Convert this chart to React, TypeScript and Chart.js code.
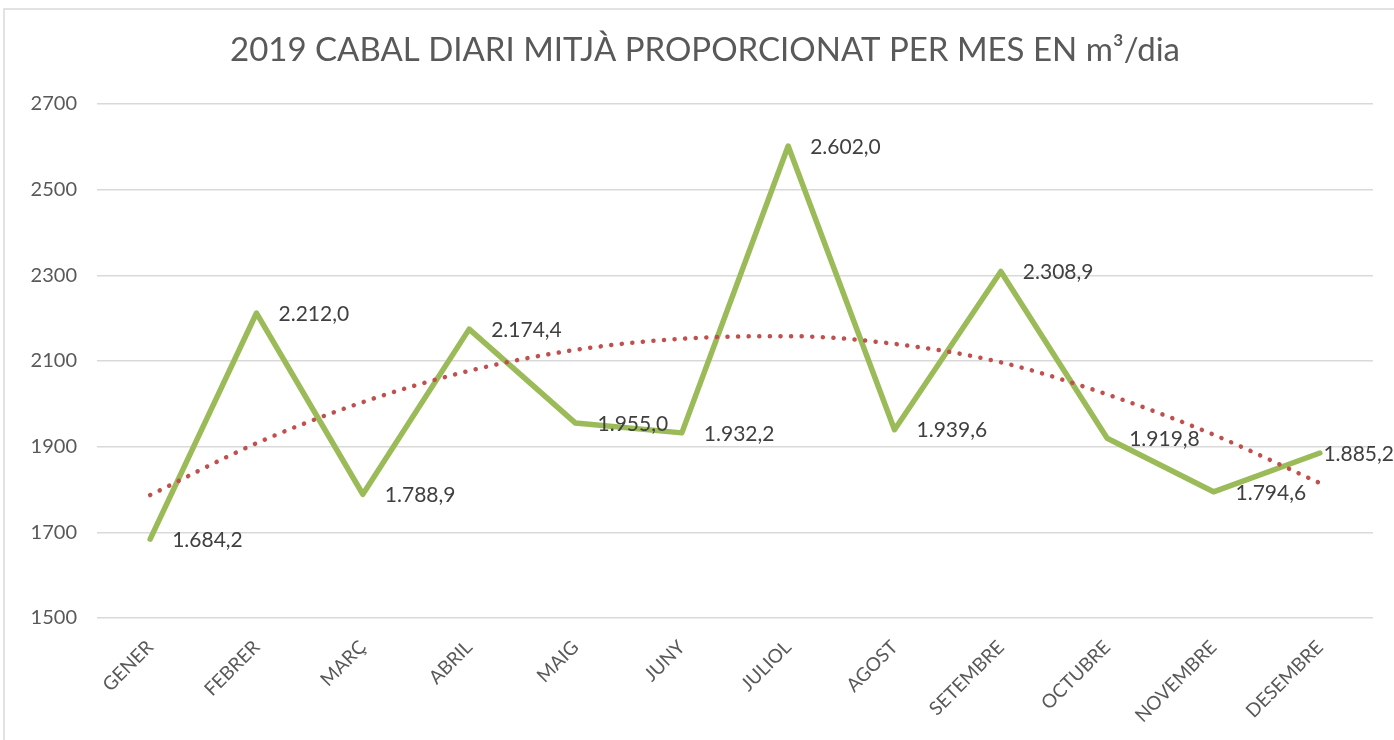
import React, { useEffect, useRef } from "react";
import { Chart, registerables } from "chart.js";

Chart.register(...registerables);

const categories = ["GENER", "FEBRER", "MARÇ", "ABRIL", "MAIG", "JUNY", "JULIOL", "AGOST", "SETEMBRE", "OCTUBRE", "NOVEMBRE", "DESEMBRE"];
const values = [1684.2, 2212.0, 1788.9, 2174.4, 1955.0, 1932.2, 2602.0, 1939.6, 2308.9, 1919.8, 1794.6, 1885.2];
const trendValues = [1787, 1908, 2004, 2077, 2126, 2152, 2158, 2140, 2097, 2022, 1928, 1815];
const yTicks = [1500, 1700, 1900, 2100, 2300, 2500, 2700];
const titleText = "2019 CABAL DIARI MITJÀ PROPORCIONAT PER MES EN m³/dia";

const FONT = "Lato, 'Open Sans', sans-serif";

function fmt(v: number): string {
  const s = v.toFixed(1);
  const [i, d] = s.split(".");
  const withSep = i.replace(/\B(?=(\d{3})+(?!\d))/g, ".");
  return withSep + "," + d;
}

const decorPlugin = {
  id: "decor",
  beforeDraw(chart: any) {
    const ctx = chart.ctx;
    ctx.save();
    ctx.fillStyle = "#ffffff";
    ctx.fillRect(0, 0, chart.width, chart.height);
    ctx.strokeStyle = "#d9d9d9";
    ctx.lineWidth = 1.5;
    ctx.beginPath();
    ctx.moveTo(4, chart.height);
    ctx.lineTo(4, 9);
    ctx.lineTo(chart.width, 9);
    ctx.stroke();
    ctx.fillStyle = "#595959";
    ctx.font = `33px ${FONT}`;
    ctx.textAlign = "center";
    ctx.textBaseline = "middle";
    ctx.fillText(titleText, 705, 50);
    ctx.restore();
  },
  afterDatasetsDraw(chart: any) {
    const ctx = chart.ctx;
    const meta = chart.getDatasetMeta(0);
    ctx.save();
    ctx.fillStyle = "#404040";
    ctx.font = `21px ${FONT}`;
    ctx.textAlign = "left";
    ctx.textBaseline = "middle";
    meta.data.forEach((el: any, i: number) => {
      const txt = fmt(values[i]);
      const w = ctx.measureText(txt).width;
      let x = el.x + 22;
      if (x + w > chart.width) x = chart.width - w;
      ctx.fillText(txt, x, el.y + 1);
    });
    ctx.restore();
  },
};

export default function App() {
  const ref = useRef<HTMLCanvasElement>(null);
  useEffect(() => {
    if (!ref.current) return;
    const chart = new Chart(ref.current, {
      type: "line",
      data: {
        labels: categories,
        datasets: [
          {
            data: values,
            borderColor: "#9BBB59",
            borderWidth: 5.5,
            pointRadius: 0,
            tension: 0,
            borderJoinStyle: "round",
            borderCapStyle: "round",
            order: 1,
          },
          {
            data: trendValues,
            borderColor: "#C0504D",
            borderWidth: 4.5,
            borderDash: [0.1, 10.5],
            borderCapStyle: "round",
            pointRadius: 0,
            tension: 0.4,
            cubicInterpolationMode: "monotone",
            order: 0,
          },
        ],
      },
      options: {
        animation: false,
        responsive: false,
        maintainAspectRatio: false,
        layout: { padding: { top: 104, right: 21, left: 0, bottom: 0 } },
        plugins: { legend: { display: false }, tooltip: { enabled: false }, title: { display: false } },
        scales: {
          x: {
            offset: true,
            grid: { display: false },
            border: { display: false },
            ticks: {
              color: "#595959",
              font: { family: FONT, size: 19 },
              maxRotation: 45,
              minRotation: 45,
              padding: 10,
            },
            afterFit(scale: any) {
              scale.height = 122;
            },
          },
          y: {
            min: 1500,
            max: 2700,
            afterBuildTicks(scale: any) {
              scale.ticks = yTicks.map((v) => ({ value: v }));
            },
            grid: { color: "#d9d9d9", lineWidth: 1.5, drawTicks: false },
            border: { display: false },
            ticks: {
              color: "#595959",
              font: { family: FONT, size: 20 },
              padding: 20,
              callback: (v: any) => String(v),
            },
            afterFit(scale: any) {
              scale.width = 97;
            },
          },
        },
      },
      plugins: [decorPlugin],
    } as any);
    return () => chart.destroy();
  }, []);
  return (
    <div style={{ position: "fixed", left: 0, top: 0, width: 1394, height: 740, background: "#fff" }}>
      <canvas ref={ref} width={1394} height={740} style={{ width: 1394, height: 740, display: "block" }} />
    </div>
  );
}
